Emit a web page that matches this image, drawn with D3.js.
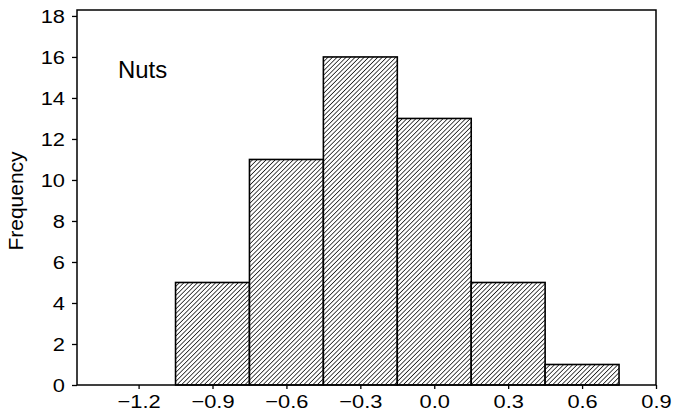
<!DOCTYPE html>
<html>
<head>
<meta charset="utf-8">
<script src="https://cdn.jsdelivr.net/npm/d3@7"></script>
<style>
  html, body { margin: 0; padding: 0; background: #fff; }
  svg { display: block; font-family: "Liberation Sans", Arial, sans-serif; }
</style>
</head>
<body>
<svg id="chart" width="674" height="420"></svg>
<script>
// Histogram bins (centres) and counts
const binCenters = [-0.9, -0.6, -0.3, 0.0, 0.3, 0.6];
const frequencies = [5, 11, 16, 13, 5, 1];
const binWidth = 0.3;
const xTicks = [-1.2, -0.9, -0.6, -0.3, 0.0, 0.3, 0.6, 0.9];
const yTicks = [0, 2, 4, 6, 8, 10, 12, 14, 16, 18];
const panelLabel = "Nuts";
const yTitle = "Frequency";

const svg = d3.select("#chart");
const margin = { left: 77, right: 18, top: 10, bottom: 35 };
const W = 674, H = 420;

const x = d3.scaleLinear().domain([-1.45, 0.9]).range([margin.left, W - margin.right]);
const y = d3.scaleLinear().domain([0, 18.29]).range([H - margin.bottom, margin.top]);

// Diagonal hatch fill, lines rising to the right
const defs = svg.append("defs");
const step = 3.2;
const pat = defs.append("pattern")
  .attr("id", "hatch")
  .attr("patternUnits", "userSpaceOnUse")
  .attr("width", step).attr("height", step)
  .attr("patternTransform", "rotate(45)");
pat.append("rect").attr("width", step).attr("height", step).attr("fill", "#fff");
pat.append("line")
  .attr("x1", 0).attr("y1", 0).attr("x2", 0).attr("y2", step)
  .attr("stroke", "#000").attr("stroke-width", 1.4);

const fmt = d => (d < 0 ? "\u2212" : "") + Math.abs(d).toFixed(1);

// Widen a text element horizontally about its anchor point
function widen(sel, sx) {
  sel.each(function () {
    const t = d3.select(this);
    const ax = +(t.attr("x") || 0), ay = +(t.attr("y") || 0);
    t.attr("transform", `translate(${ax},${ay}) scale(${sx},1) translate(${-ax},${-ay})`);
  });
}

// Bars
svg.append("g").selectAll("rect")
  .data(binCenters.map((c, i) => ({ c, f: frequencies[i] })))
  .join("rect")
  .attr("x", d => x(d.c - binWidth / 2))
  .attr("width", d => x(d.c + binWidth / 2) - x(d.c - binWidth / 2))
  .attr("y", d => y(d.f))
  .attr("height", d => y(0) - y(d.f))
  .attr("fill", "url(#hatch)")
  .attr("stroke", "#000")
  .attr("stroke-width", 1.6);

// Frame
svg.append("rect")
  .attr("x", x.range()[0]).attr("y", y.range()[1])
  .attr("width", x.range()[1] - x.range()[0])
  .attr("height", y.range()[0] - y.range()[1])
  .attr("fill", "none").attr("stroke", "#000").attr("stroke-width", 1.5);

// Axes
const xAxis = svg.append("g")
  .attr("transform", `translate(0,${y(0)})`)
  .call(d3.axisBottom(x).tickValues(xTicks).tickFormat(fmt).tickSize(4).tickPadding(4));
const yAxis = svg.append("g")
  .attr("transform", `translate(${x.range()[0]},0)`)
  .call(d3.axisLeft(y).tickValues(yTicks).tickSize(5).tickPadding(7));

[xAxis, yAxis].forEach(g => {
  g.attr("font-size", null).attr("font-family", null);
  g.select(".domain").remove();
  g.selectAll(".tick line").attr("stroke", "#000").attr("stroke-width", 1.3);
  g.selectAll(".tick text")
    .attr("fill", "#000")
    .attr("font-size", 19)
    .attr("font-family", "'Liberation Sans', Arial, sans-serif");
});
xAxis.selectAll(".tick text").attr("dy", null).attr("y", 23);
yAxis.selectAll(".tick text").attr("dy", "0.36em");
widen(xAxis.selectAll(".tick text"), 1.15);
widen(yAxis.selectAll(".tick text"), 1.15);

// Y axis title
svg.append("text")
  .attr("transform", `translate(23,201) rotate(-90)`)
  .attr("text-anchor", "middle")
  .attr("fill", "#000")
  .attr("font-size", 21)
  .text(yTitle);

// Panel label
const lbl = svg.append("text")
  .attr("x", 118).attr("y", 78)
  .attr("fill", "#000")
  .attr("font-size", 23)
  .text(panelLabel);
widen(lbl, 1.04);
</script>
</body>
</html>
